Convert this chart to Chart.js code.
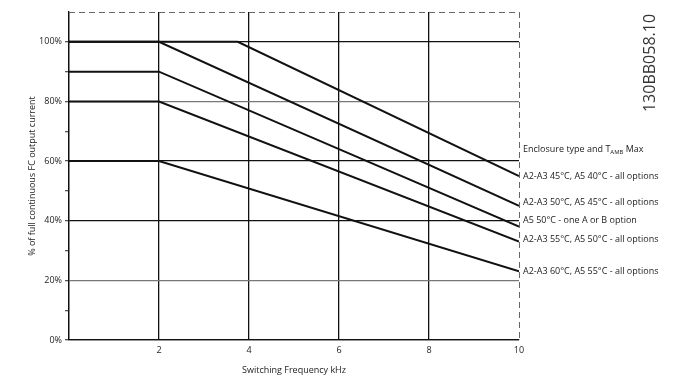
<!DOCTYPE html>
<html>
<head>
<meta charset="utf-8">
<script src="https://cdn.jsdelivr.net/npm/chart.js@4.4.1/dist/chart.umd.min.js"></script>
<style>
  html, body { margin: 0; padding: 0; background: #fff; }
  #wrap { width: 691px; height: 385px; position: relative; }
</style>
</head>
<body>
<div id="wrap"><canvas id="derate"></canvas></div>
<script>
// derating curves: flat up to breakFreq, then straight down to 10 kHz
var curveNames = [
  'A2-A3 45\u00B0C, A5 40\u00B0C - all options',
  'A2-A3 50\u00B0C, A5 45\u00B0C - all options',
  'A5 50\u00B0C - one A or B option',
  'A2-A3 55\u00B0C, A5 50\u00B0C - all options',
  'A2-A3 60\u00B0C, A5 55\u00B0C - all options'
];
var breakFreq = [3.75, 2, 2, 2, 2];
var startPct  = [100, 100, 90, 80, 60];
var endPct    = [55, 45, 38, 33, 23];
var xTicks = [2, 4, 6, 8, 10];
var yTicks = [0, 20, 40, 60, 80, 100];
var legendTitle = 'Enclosure type and T';
var drawingNo = '130BB058.10';

var FONT = "'Open Sans', 'Noto Sans', sans-serif";

var datasets = [];
for (var i = 0; i < curveNames.length; i++) {
  datasets.push({
    label: curveNames[i],
    data: [{x: 0, y: startPct[i]}, {x: breakFreq[i], y: startPct[i]}, {x: 10, y: endPct[i]}],
    borderColor: '#111',
    borderWidth: 2,
    pointRadius: 0,
    tension: 0,
    fill: false
  });
}

var extras = {
  id: 'extras',
  afterDatasetsDraw: function(chart) {
    var c = chart.ctx, a = chart.chartArea, ys = chart.scales.y;
    c.save();
    // dashed top and right edges
    c.strokeStyle = '#666';
    c.lineWidth = 1;
    c.setLineDash([6, 4]);
    c.beginPath();
    c.moveTo(a.left, a.top + 0.5); c.lineTo(a.right, a.top + 0.5);
    c.moveTo(a.right + 0.5, a.top); c.lineTo(a.right + 0.5, a.bottom);
    c.stroke();
    c.setLineDash([]);

    // curve labels at the right
    var nudge = [0.5, -3.5, -6, -2, 0.5];
    c.fillStyle = '#222';
    c.font = '9px ' + FONT;
    c.textBaseline = 'middle';
    c.textAlign = 'left';
    var tx = a.right + 4;
    for (var i = 0; i < curveNames.length; i++) {
      c.fillText(curveNames[i], tx, ys.getPixelForValue(endPct[i]) + nudge[i]);
    }
    var hy = ys.getPixelForValue(endPct[0]) - 27;
    c.fillText(legendTitle, tx, hy);
    var w = c.measureText(legendTitle).width;
    c.font = '6px ' + FONT;
    c.fillText('AMB', tx + w, hy + 3);
    var w2 = c.measureText('AMB').width;
    c.font = '9px ' + FONT;
    c.fillText(' Max', tx + w + w2, hy);

    // drawing number, rotated
    c.translate(650, 63);
    c.rotate(-Math.PI / 2);
    c.font = '16px ' + FONT;
    c.fillStyle = '#333';
    c.textAlign = 'center';
    c.fillText(drawingNo, 0, 0);
    c.restore();
  }
};

new Chart(document.getElementById('derate'), {
  type: 'line',
  data: { datasets: datasets },
  options: {
    responsive: true,
    maintainAspectRatio: false,
    animation: false,
    layout: { padding: { top: 12, right: 172, left: 0, bottom: 0 } },
    plugins: { legend: { display: false }, tooltip: { enabled: false } },
    scales: {
      x: {
        type: 'linear', min: 0, max: 10,
        afterFit: function(s) { s.height = 45; },
        ticks: {
          stepSize: 2, autoSkip: false, padding: 5,
          color: '#222', font: { family: FONT, size: 9 },
          callback: function(v) { return xTicks.indexOf(v) >= 0 ? String(v) : ''; }
        },
        grid: {
          drawTicks: false,
          lineWidth: 1.3,
          color: function(ctx) {
            var v = ctx.tick && ctx.tick.value;
            return (v === 10) ? 'rgba(0,0,0,0)' : '#111';
          }
        },
        border: { color: '#111', width: 1.3 },
        title: {
          display: true, text: 'Switching Frequency kHz',
          color: '#222', font: { family: FONT, size: 9 },
          padding: { top: 0, bottom: 9 }
        }
      },
      y: {
        min: 0, max: 110,
        afterFit: function(s) { s.width = 69; },
        ticks: {
          stepSize: 10, autoSkip: false, padding: 3,
          color: '#222', font: { family: FONT, size: 9 },
          callback: function(v) { return yTicks.indexOf(v) >= 0 ? v + '%' : ''; }
        },
        grid: {
          tickLength: 4,
          lineWidth: 1.3,
          color: function(ctx) {
            var v = ctx.tick && ctx.tick.value;
            if (yTicks.indexOf(v) < 0) return 'rgba(0,0,0,0)';
            return (v === 20 || v === 80) ? '#777' : '#111';
          },
          tickColor: function(ctx) {
            var v = ctx.tick && ctx.tick.value;
            return v === 110 ? 'rgba(0,0,0,0)' : '#555';
          }
        },
        border: { color: '#111', width: 1.3 },
        title: {
          display: true, text: '% of full continuous FC output current',
          color: '#222', font: { family: FONT, size: 9 },
          padding: { top: 27, bottom: 0 }
        }
      }
    }
  },
  plugins: [extras]
});
</script>
</body>
</html>
